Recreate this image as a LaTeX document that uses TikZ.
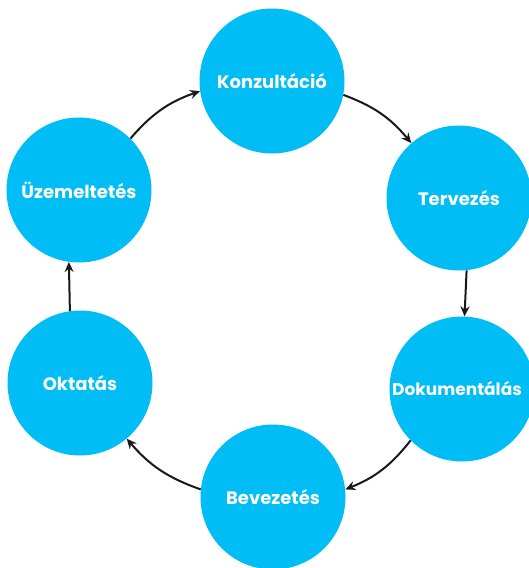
\documentclass[tikz,border=0pt]{standalone}
\usepackage{fontspec}
\setmainfont{Poppins}
\usetikzlibrary{arrows.meta}
\definecolor{bub}{RGB}{0,190,245}
\tikzset{
  bubble/.style={circle, fill=bub, minimum size=145pt, inner sep=0pt, text=white, font=\bfseries\fontsize{18}{21}\selectfont},
  link/.style={line width=2pt, -{Stealth[length=10pt,width=9pt]}, black!90}
}
\begin{document}
\begin{tikzpicture}[x=1pt,y=-1pt]
\useasboundingbox (0,0) rectangle (529,568);
\node[bubble] (K) at (272,81) {Konzultáció};
\node[bubble] (T) at (459,198) {Tervezés};
\node[bubble, font=\bfseries\fontsize{17}{20}\selectfont] (D) at (462,389) {Dokumentálás\hspace*{10pt}};
\node[bubble] (B) at (273,497) {Bevezetés};
\node[bubble] (O) at (80,383) {Oktatás};
\node[bubble] (U) at (79,190) {Üzemeltetés};
\draw[link] (K.-11) to[bend left=15] (T.131);
\draw[link] (T.-84) -- (D.88);
\draw[link] (D.-135) to[bend left=15] (B.6);
\draw[link] (B.174) to[bend left=15] (O.-50);
\draw[link] (O.98) -- (U.-98);
\draw[link] (U.45) to[bend left=15] (K.-172);
\end{tikzpicture}
\end{document}
